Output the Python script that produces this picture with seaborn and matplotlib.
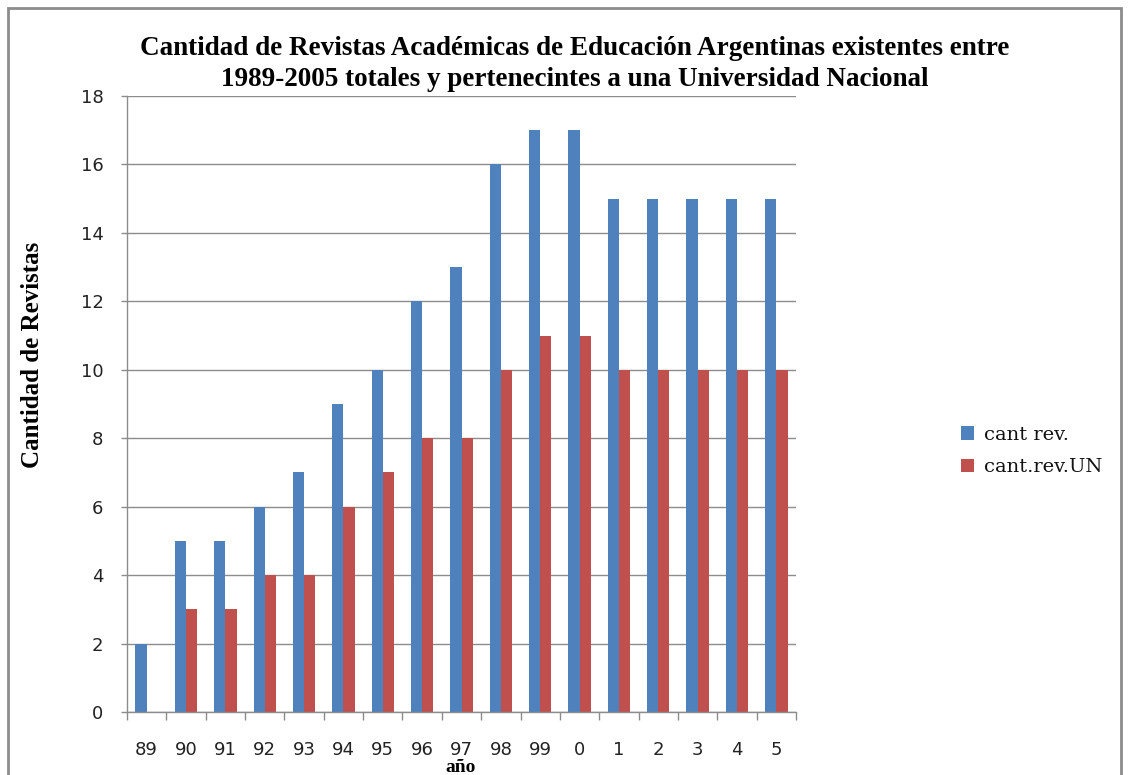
import matplotlib
matplotlib.use("Agg")
import matplotlib.pyplot as plt
import seaborn as sns
import pandas as pd
import numpy as np
from matplotlib.patches import Rectangle

categories = ["89", "90", "91", "92", "93", "94", "95", "96", "97", "98", "99", "0", "1", "2", "3", "4", "5"]
cant_rev = [2, 5, 5, 6, 7, 9, 10, 12, 13, 16, 17, 17, 15, 15, 15, 15, 15]
cant_rev_un = [np.nan, 3, 3, 4, 4, 6, 7, 8, 8, 10, 11, 11, 10, 10, 10, 10, 10]
series_names = ["cant rev.", "cant.rev.UN"]
y_ticks = [0, 2, 4, 6, 8, 10, 12, 14, 16, 18]

df = pd.DataFrame({
    "año": categories * 2,
    "valor": cant_rev + cant_rev_un,
    "serie": [series_names[0]] * len(categories) + [series_names[1]] * len(categories),
})

sns.set_theme(style="white")
plt.rcParams['font.family'] = ['DejaVu Sans']

W, H = 1128, 775
fig = plt.figure(figsize=(W / 100, H / 100), dpi=100)
ax = fig.add_axes([127 / W, 1 - 712 / H, (796 - 127) / W, (712 - 96) / H])

palette = {series_names[0]: "#4F81BD", series_names[1]: "#C0504D"}
sns.barplot(data=df, x="año", y="valor", hue="serie", order=categories,
            hue_order=series_names, palette=palette, width=0.57,
            saturation=1, ax=ax, legend=True, errorbar=None, linewidth=0)

ax.set_ylim(0, 18)
ax.set_xlim(-0.5, len(categories) - 0.5)
ax.set_yticks(y_ticks)
ax.yaxis.grid(True, color="#8c8c8c", linewidth=1)
ax.set_axisbelow(True)
for s in ["top", "right"]:
    ax.spines[s].set_visible(False)
for s in ["left", "bottom"]:
    ax.spines[s].set_color("#8c8c8c")
    ax.spines[s].set_linewidth(1)

# x: boundary ticks (major) and centered labels (minor)
ax.set_xticks(np.arange(-0.5, len(categories), 1.0))
ax.set_xticklabels([])
ax.set_xticks(np.arange(len(categories)), minor=True)
ax.set_xticklabels(categories, minor=True, fontsize=13, color="#222222",
                   family=["DejaVu Sans"])
ax.tick_params(axis="x", which="major", length=6, color="#8c8c8c", width=1, direction="out", bottom=True)
ax.tick_params(axis="x", which="minor", length=0, pad=21)
ax.tick_params(axis="y", length=4, color="#8c8c8c", width=1, direction="out", left=True,
               labelsize=13, labelcolor="#222222", pad=13)

ax.set_xlabel("")
ax.set_ylabel("")
fig.text(461 / W, 1 - 768 / H, "año", ha="center", va="center", fontsize=14,
         fontweight="bold", family=["Liberation Serif"], color="black")
fig.text(33 / W, 1 - 355 / H, "Cantidad de Revistas", ha="center", va="center",
         rotation=90, fontsize=18, fontweight="bold", family=["Liberation Serif"], color="black")

fig.text(575 / W, 1 - 64 / H,
         "Cantidad de Revistas Académicas de Educación Argentinas existentes entre\n1989-2005 totales y pertenecintes a una Universidad Nacional",
         ha="center", va="center", fontsize=19.5, fontweight="bold",
         family=["Liberation Serif"], linespacing=1.35, color="black")

leg = ax.legend(loc="center left", bbox_to_anchor=(943 / W, 1 - 451 / H),
                bbox_transform=fig.transFigure, frameon=False,
                handlelength=0.7, handleheight=0.7, handletextpad=0.5, labelspacing=0.75,
                prop={"family": "DejaVu Serif", "size": 14})
for t in leg.get_texts():
    t.set_color("#111111")

# outer frame
fig.patches.append(Rectangle((8 / W, -0.05), (1121 - 8) / W, 1 - 8 / H + 0.05,
                             transform=fig.transFigure, fill=False,
                             edgecolor="#8c8c8c", linewidth=2, zorder=0))

fig.savefig("out.png", dpi=100, facecolor="white")
